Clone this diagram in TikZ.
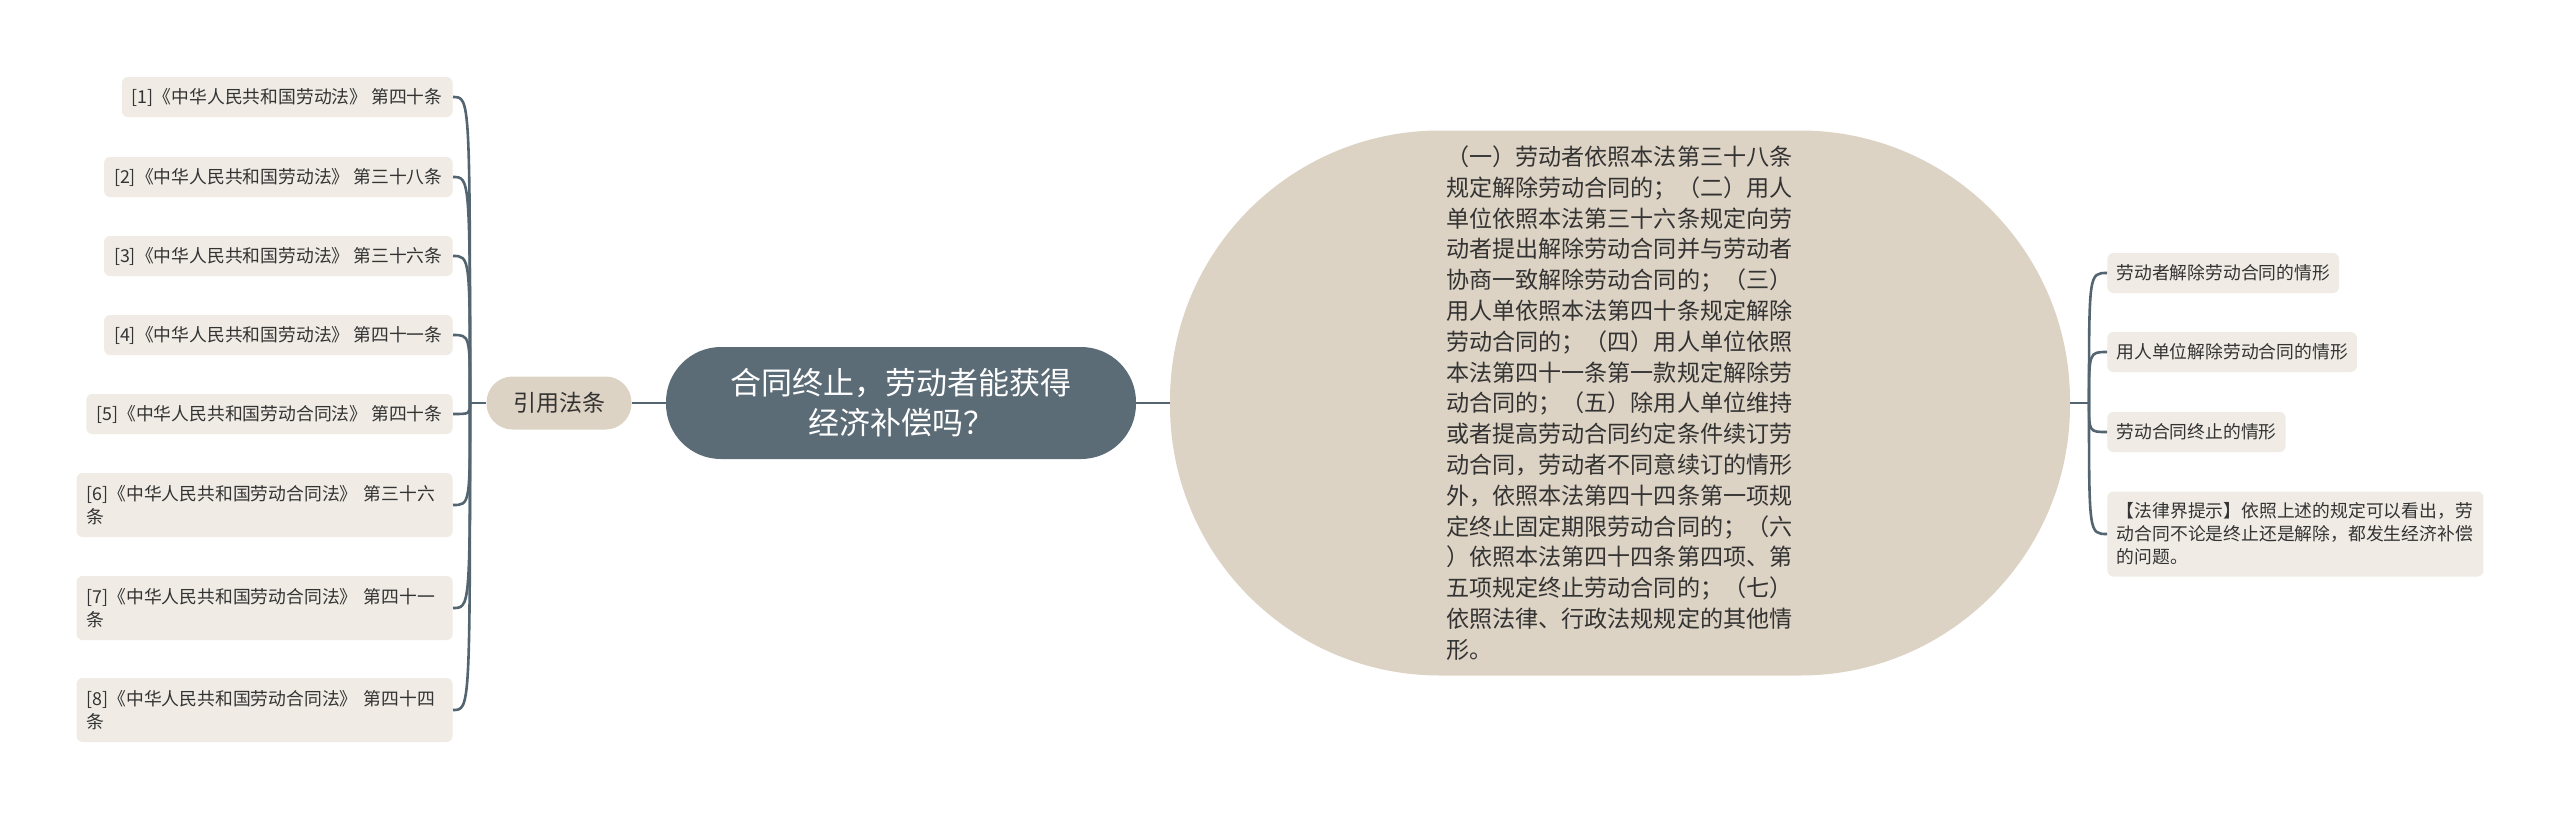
\documentclass[tikz,border=0pt]{standalone}
\usepackage{fontspec}
\setmainfont{Noto Sans CJK SC}
\usepackage{tikz}
\definecolor{linecol}{HTML}{536571}
\definecolor{rootcol}{HTML}{5B6C77}
\definecolor{bodycol}{HTML}{DDD3C4}
\definecolor{leafcol}{HTML}{F0ECE5}
\definecolor{txtcol}{HTML}{333333}

\begin{document}
\begin{tikzpicture}[x=0.5pt,y=-0.5pt,
		conn/.style={draw=linecol, line width=1.3pt},
		leaf/.style={fill=leafcol, rounded corners=3pt, text=txtcol, inner xsep=5pt, inner ysep=0pt,
			font=\fontsize{8.9pt}{11.5pt}\selectfont},
		leafone/.style={leaf, minimum height=20pt},
		leaftwo/.style={leaf, minimum height=32pt, text width=178pt, align=left}]
		    \begin{scope}
					\fill[white] (0,0) rectangle (2560,819);
					\useasboundingbox (0,0) rectangle (2560,819);

					% centro
					\node[fill=rootcol, text=white, rounded corners=27.5pt, minimum width=235pt, minimum height=56pt,
						align=center, font=\fontsize{15.5pt}{20pt}\selectfont] (root) at (901,403) {合同终止，劳动者能获得\\经济补偿吗？};
					\node[fill=bodycol, text=txtcol, rounded corners=135pt, minimum width=450pt, minimum height=272.5pt, inner sep=0pt,
						text width=174pt, align=left, font=\fontsize{11.55pt}{15.4pt}\selectfont] (body) at (1620,403)
						{（一）劳动者依照本法第三十八条\\规定解除劳动合同的；（二）用人\\单位依照本法第三十六条规定向劳\\动者提出解除劳动合同并与劳动者\\协商一致解除劳动合同的；（三）\\用人单依照本法第四十条规定解除\\劳动合同的；（四）用人单位依照\\本法第四十一条第一款规定解除劳\\动合同的；（五）除用人单位维持\\或者提高劳动合同约定条件续订劳\\动合同，劳动者不同意续订的情形\\外，依照本法第四十四条第一项规\\定终止固定期限劳动合同的；（六\\）依照本法第四十四条第四项、第\\五项规定终止劳动合同的；（七）\\依照法律、行政法规规定的其他情\\形。};
					\node[fill=bodycol, text=txtcol, rounded corners=13pt, minimum width=72.5pt, minimum height=26.5pt,
						font=\fontsize{11.5pt}{14pt}\selectfont] (ref) at (559,403) {引用法条};

					% a sinistra
					\node[leafone, anchor=east] (l1) at (453,97) {[1]《中华人民共和国劳动法》 第四十条};
					\node[leafone, anchor=east] (l2) at (453,177) {[2]《中华人民共和国劳动法》 第三十八条};
					\node[leafone, anchor=east] (l3) at (453,256) {[3]《中华人民共和国劳动法》 第三十六条};
					\node[leafone, anchor=east] (l4) at (453,335) {[4]《中华人民共和国劳动法》 第四十一条};
					\node[leafone, anchor=east] (l5) at (453,414) {[5]《中华人民共和国劳动合同法》 第四十条};
					\node[leaftwo, anchor=east] (l6) at (453,505) {[6]《中华人民共和国劳动合同法》 第三十六\\条};
					\node[leaftwo, anchor=east] (l7) at (453,608) {[7]《中华人民共和国劳动合同法》 第四十一\\条};
					\node[leaftwo, anchor=east] (l8) at (453,710) {[8]《中华人民共和国劳动合同法》 第四十四\\条};

					% a destra
					\node[leafone, anchor=west, inner xsep=4.5pt] (r1) at (2107,273) {劳动者解除劳动合同的情形};
					\node[leafone, anchor=west, inner xsep=4.5pt] (r2) at (2107,352) {用人单位解除劳动合同的情形};
					\node[leafone, anchor=west, inner xsep=4.5pt] (r3) at (2107,432) {劳动合同终止的情形};
					\node[leaf, anchor=west, inner xsep=4.75pt, minimum height=42.5pt, text width=178.5pt, align=left] (r4) at (2107,534)
						{【法律界提示】依照上述的规定可以看出，劳\\动合同不论是终止还是解除，都发生经济补偿\\的问题。};

					\coordinate (lhub) at (470,403);
					\coordinate (rhub) at (2089,403);

					\draw[conn] (ref.east) -- (root.west);
					\draw[conn] (root.east) -- (body.west);
					\draw[conn] (ref.west) -- (lhub);
					\draw[conn] (body.east) -- (rhub);

					\foreach \n in {l1,l2,l3,l4,l5,l6,l7,l8}
						\draw[conn] (lhub) .. controls (lhub |- \n.east) .. (\n.east);
					\foreach \n in {r1,r2,r3,r4}
						\draw[conn] (rhub) .. controls (rhub |- \n.west) .. (\n.west);

		    \end{scope}
\end{tikzpicture}
\end{document}
